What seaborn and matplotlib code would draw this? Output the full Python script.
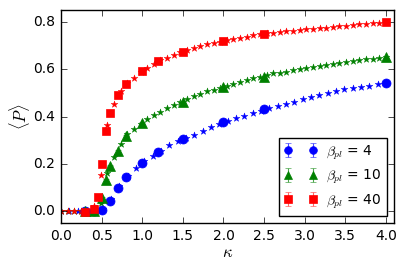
import numpy as np
import matplotlib
matplotlib.use("Agg")
import matplotlib.pyplot as plt
import seaborn as sns

# measured points (markers with error bars)
kappa_b4 = [0.3, 0.4, 0.5, 0.6, 0.7, 0.8, 1.0, 1.2, 1.5, 2.0, 2.5, 4.0]
P_b4 = [0.0, 0.0, 0.007, 0.045, 0.098, 0.143, 0.204, 0.249, 0.303, 0.376, 0.433, 0.543]
err_b4 = [0.002, 0.002, 0.003, 0.004, 0.004, 0.004, 0.004, 0.004, 0.004, 0.004, 0.004, 0.004]

kappa_b10 = [0.3, 0.4, 0.5, 0.55, 0.6, 0.7, 0.8, 1.0, 1.5, 2.0, 2.5, 4.0]
P_b10 = [0.0, 0.0, 0.056, 0.131, 0.193, 0.256, 0.317, 0.371, 0.462, 0.523, 0.568, 0.652]
err_b10 = [0.002, 0.002, 0.004, 0.004, 0.004, 0.004, 0.004, 0.004, 0.004, 0.004, 0.004, 0.004]

kappa_b40 = [0.3, 0.4, 0.45, 0.5, 0.55, 0.6, 0.7, 0.8, 1.0, 1.2, 1.5, 2.0, 2.5, 4.0]
P_b40 = [-0.003, 0.01, 0.058, 0.2, 0.34, 0.416, 0.492, 0.536, 0.593, 0.633, 0.674, 0.719, 0.75, 0.8]
err_b40 = [0.002, 0.003, 0.004, 0.004, 0.004, 0.004, 0.004, 0.004, 0.004, 0.004, 0.004, 0.004, 0.004, 0.004]

# theory curves (star markers), evenly spaced in kappa
kappa_th40 = np.linspace(0, 4, 40)
P_th4 = [0.0, 0.0, 0.0, 0.0, 0.0, 0.01, 0.05, 0.105, 0.15, 0.183,
         0.21, 0.234, 0.255, 0.279, 0.297, 0.31, 0.324, 0.34, 0.354, 0.368,
         0.38, 0.392, 0.402, 0.414, 0.425, 0.435, 0.444, 0.452, 0.462, 0.472,
         0.481, 0.49, 0.5, 0.509, 0.515, 0.519, 0.524, 0.53, 0.537, 0.543]

kappa_th50 = np.linspace(0, 4, 50)
P_th10 = [0.0, 0.0, 0.0, 0.0, 0.0, 0.005, 0.035, 0.16, 0.23, 0.283,
          0.325, 0.347, 0.37, 0.388, 0.406, 0.42, 0.437, 0.448, 0.46, 0.472,
          0.486, 0.495, 0.506, 0.514, 0.522, 0.53, 0.537, 0.547, 0.554, 0.561,
          0.568, 0.575, 0.582, 0.586, 0.59, 0.595, 0.599, 0.603, 0.608, 0.612,
          0.616, 0.62, 0.625, 0.629, 0.633, 0.637, 0.641, 0.645, 0.649, 0.653]
P_th40 = [0.0, 0.0, 0.0, 0.0, 0.0, 0.02, 0.155, 0.364, 0.455, 0.507,
          0.54, 0.564, 0.59, 0.606, 0.624, 0.637, 0.648, 0.662, 0.672, 0.68,
          0.688, 0.698, 0.706, 0.712, 0.717, 0.722, 0.727, 0.733, 0.738, 0.743,
          0.747, 0.751, 0.754, 0.757, 0.76, 0.763, 0.766, 0.768, 0.771, 0.774,
          0.776, 0.779, 0.781, 0.784, 0.786, 0.789, 0.791, 0.794, 0.797, 0.8]

labels = [r"$\beta_{pl}$ = 4", r"$\beta_{pl}$ = 10", r"$\beta_{pl}$ = 40"]

plt.style.use("classic")
plt.rcParams["font.family"] = ["DejaVu Sans"]
plt.rcParams["font.size"] = 10

fig, ax = plt.subplots(figsize=(4.07, 2.71), dpi=100)
fig.subplots_adjust(left=0.150, right=0.968, bottom=0.177, top=0.963)

# theory stars
sns.scatterplot(x=kappa_th40, y=P_th4, marker="*", color="b", s=26,
                edgecolor="b", linewidth=0.3, ax=ax, legend=False, zorder=2)
sns.scatterplot(x=kappa_th50, y=P_th10, marker="*", color="g", s=26,
                edgecolor="g", linewidth=0.3, ax=ax, legend=False, zorder=2)
sns.scatterplot(x=kappa_th50, y=P_th40, marker="*", color="r", s=26,
                edgecolor="r", linewidth=0.3, ax=ax, legend=False, zorder=2)

# data with error bars
ax.errorbar(kappa_b4, P_b4, yerr=err_b4, fmt="o", color="b", mec="b",
            ms=6.5, ecolor=(0.3, 0.3, 1.0), capsize=2.5, elinewidth=0.8,
            label=labels[0], zorder=3)
ax.errorbar(kappa_b10, P_b10, yerr=err_b10, fmt="^", color="g", mec="g",
            ms=7, ecolor=(0.3, 0.65, 0.3), capsize=2.5, elinewidth=0.8,
            label=labels[1], zorder=3)
ax.errorbar(kappa_b40, P_b40, yerr=err_b40, fmt="s", color="r", mec="r",
            ms=6, ecolor=(1.0, 0.4, 0.4), capsize=2.5, elinewidth=0.8,
            label=labels[2], zorder=4)

ax.set_xlim(0, 4.1)
ax.set_ylim(-0.05, 0.85)
ax.set_xticks(np.arange(0, 4.01, 0.5))
ax.set_yticks([0.0, 0.2, 0.4, 0.6, 0.8])
ax.tick_params(labelsize=10, length=4)
ax.set_xlabel(r"$\kappa$", fontsize=12, labelpad=0)
ax.set_ylabel(r"$\langle P\rangle$", fontsize=12, labelpad=1)

leg = ax.legend(loc="lower right", numpoints=2, fontsize=10, frameon=True,
                fancybox=False, borderaxespad=0.5, handletextpad=0.6,
                handlelength=2.4, labelspacing=0.45, markerscale=0.85)

fig.savefig("out.png", dpi=100)
